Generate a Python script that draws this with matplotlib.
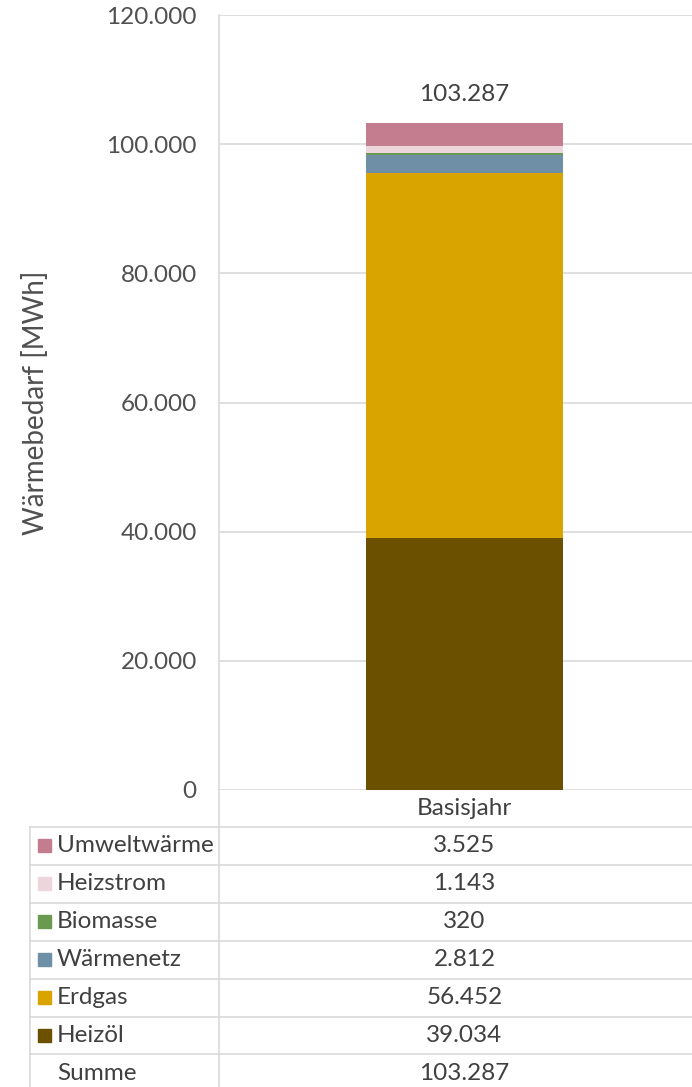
import numpy as np
import matplotlib.pyplot as plt
from matplotlib.lines import Line2D
from matplotlib.patches import Rectangle
from matplotlib.ticker import FuncFormatter

plt.rcParams['font.family'] = ['Lato', 'DejaVu Sans']

# Daten (von oben nach unten wie in der Tabelle)
kategorie = 'Basisjahr'
traeger = ['Umweltwärme', 'Heizstrom', 'Biomasse', 'Wärmenetz', 'Erdgas', 'Heizöl']
werte = [3525, 1143, 320, 2812, 56452, 39034]
farben = ['#C47D8F', '#EDD5DC', '#6A9A4F', '#6E8FA5', '#D9A300', '#6B5000']
summe = 103287  # wie im Original ausgewiesen (Rundung)

W, H = 692, 1087
fig = plt.figure(figsize=(W / 100, H / 100), dpi=100)

def fx(x):
    return x / W

def fy(y):
    return 1 - y / H

fs = 17.5
tc = '#404040'

# Diagrammbereich
x0, x1, ytop, ybot = 219, 692, 15, 790
ax = fig.add_axes([fx(x0), fy(ybot), fx(x1) - fx(x0), fy(ytop) - fy(ybot)])

def de(v, pos=None):
    return f'{v:,.0f}'.replace(',', '.')

# gestapelte Säule (von unten: Heizöl ... Umweltwärme)
unten = 0
for name, v, c in zip(traeger[::-1], werte[::-1], farben[::-1]):
    ax.bar(0, v, width=0.4, bottom=unten, color=c, zorder=3)
    unten += v

ax.annotate(de(summe), (0, unten), xytext=(0, 16), textcoords='offset points',
            ha='center', va='baseline', fontsize=fs, color=tc)

ax.set_ylim(0, 120000)
ax.set_xlim(-0.5, 0.463)
ax.set_yticks(np.arange(0, 120001, 20000))
ax.yaxis.set_major_formatter(FuncFormatter(de))
ax.set_xticks([])
ax.tick_params(axis='y', length=0, pad=16, labelsize=fs, labelcolor='#505050')
ax.grid(axis='y', color='#d9d9d9', linewidth=1.2, zorder=0)
for s in ax.spines.values():
    s.set_visible(False)
ax.spines['left'].set_visible(True)
ax.spines['left'].set_color('#d9d9d9')
ax.spines['left'].set_linewidth(1.2)

fig.text(fx(36), fy((ytop + ybot) / 2), 'Wärmebedarf [MWh]', rotation=90,
         ha='center', va='center', fontsize=20, color='#505050')

# Datentabelle
lc = '#d9d9d9'
rh = 37.9
zeilen_top = 827
xc = 464.5
# Kategoriezeile
fig.text(fx(xc), fy((ybot + zeilen_top) / 2), kategorie, ha='center', va='center',
         fontsize=fs, color=tc)
namen = traeger + ['Summe']
zahlen = werte + [summe]
for i, (n, v) in enumerate(zip(namen, zahlen)):
    yt = zeilen_top + i * rh
    yc = yt + rh / 2
    fig.add_artist(Line2D([fx(30), fx(692)], [fy(yt), fy(yt)], transform=fig.transFigure,
                          color=lc, linewidth=1.2))
    if i < len(farben):
        fig.add_artist(Rectangle((fx(38), fy(yc + 6.5)), fx(13), 13 / H,
                                 transform=fig.transFigure, color=farben[i]))
    fig.text(fx(57), fy(yc), n, ha='left', va='center', fontsize=fs, color=tc)
    fig.text(fx(xc), fy(yc), de(v), ha='center', va='center', fontsize=fs, color=tc)

fig.add_artist(Line2D([fx(30), fx(30)], [fy(zeilen_top), 0], transform=fig.transFigure,
                      color=lc, linewidth=1.2))
fig.add_artist(Line2D([fx(x0), fx(x0)], [fy(ybot), 0], transform=fig.transFigure,
                      color=lc, linewidth=1.2))

fig.savefig('out.png', dpi=100)
